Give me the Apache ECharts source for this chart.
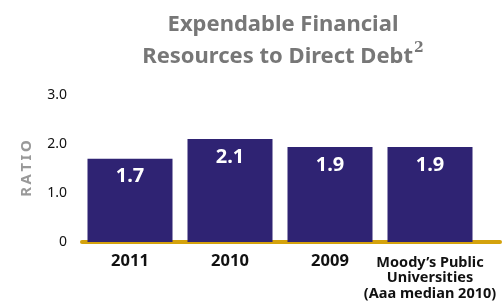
<!DOCTYPE html>
<html><head><meta charset="utf-8">
<script src="https://cdn.jsdelivr.net/npm/echarts@6/dist/echarts.min.js"></script>
<style>html,body{margin:0;padding:0;background:#fff}#c{width:502px;height:302px}</style>
</head><body><div id="c"></div>
<script>
const categories = ['2011', '2010', '2009', "Moody’s Public\nUniversities\n(Aaa median 2010)"];
const ratioValues = [1.7, 2.1, 1.94, 1.94];
const yTicks = [0, 1, 2, 3];

const chart = echarts.init(document.getElementById('c'), null, {renderer: 'canvas'});
const FONT = '"Noto Sans", sans-serif';
const GOLD = '#d4a20c';
const catData = categories.map(c => c.indexOf('\n') >= 0 ? {value: c, textStyle: {padding: [3, 0, 0, 0]}} : c);
chart.setOption({
  animation: false,
  title: {
    text: '{a|Expendable Financial}\n{a|Resources to Direct Debt}{s|2}',
    left: 278, top: 4, textAlign: 'center',
    textStyle: {
      rich: {
        a: {fontFamily: FONT, fontWeight: 'bold', fontSize: 22, color: '#777', lineHeight: 32},
        s: {fontFamily: '"DejaVu Serif", serif', fontSize: 14, color: '#777', verticalAlign: 'top', lineHeight: 32, padding: [0,0,14,1]}
      }
    }
  },
  grid: [
    {left: 80, right: 22, top: 95, bottom: 60, containLabel: false, outerBoundsMode: 'none'},
    {left: 82, right: 2, top: 95, bottom: 60, containLabel: false, outerBoundsMode: 'none'}
  ],
  xAxis: [{
    type: 'category', data: catData, gridIndex: 0,
    axisLine: {show: false},
    axisTick: {show: false},
    axisLabel: {
      interval: 0, margin: 10, verticalAlign: 'top',
      formatter: v => v.indexOf('\n') >= 0 ? '{m|' + v + '}' : '{y|' + v + '}',
      rich: {
        y: {fontFamily: FONT, fontWeight: 'bold', fontSize: 16.5, color: '#111', lineHeight: 18},
        m: {fontFamily: FONT, fontWeight: 'bold', fontSize: 14.5, color: '#111', lineHeight: 15.5, align: 'center'}
      }
    }
  }, {
    type: 'value', gridIndex: 1, min: 0, max: 1,
    axisLine: {show: true, onZero: false, lineStyle: {color: GOLD, width: 4}},
    axisTick: {show: false}, axisLabel: {show: false}, splitLine: {show: false}
  }],
  yAxis: [{
    type: 'value', min: 0, max: 3, interval: 1, gridIndex: 0,
    name: 'R\u2009A\u2009T\u2009I\u2009O', nameLocation: 'middle', nameRotate: 90, nameGap: 46,
    nameTextStyle: {fontFamily: FONT, fontWeight: 'bold', fontSize: 15, color: '#999'},
    axisLine: {show: false}, axisTick: {show: false}, splitLine: {show: false},
    axisLabel: {
      margin: 13, fontFamily: FONT, fontSize: 14, color: '#111',
      formatter: v => yTicks.indexOf(v) >= 0 ? (v === 0 ? '0' : v.toFixed(1)) : ''
    }
  }, {
    type: 'value', gridIndex: 1, show: false
  }],
  series: [{
    type: 'bar', data: ratioValues, barWidth: 85, z: 1,
    itemStyle: {color: '#2f2373'},
    label: {
      show: true, position: 'insideTop', distance: 8,
      formatter: p => p.value.toFixed(1),
      fontFamily: FONT, fontWeight: 'bold', fontSize: 20, color: '#fff'
    }
  }]
});
</script></body></html>
